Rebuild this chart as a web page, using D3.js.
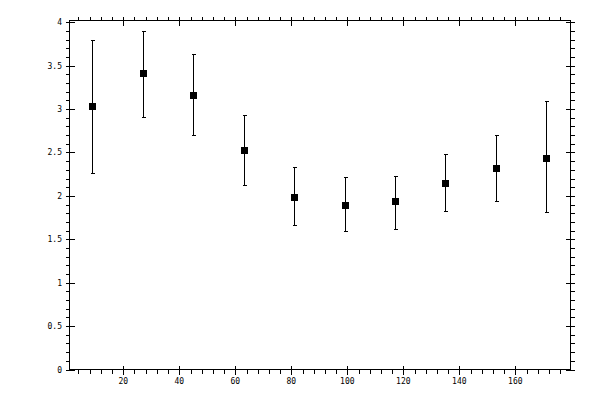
<!DOCTYPE html>
<html>
<head>
<meta charset="utf-8">
<script src="https://cdn.jsdelivr.net/npm/d3@7"></script>
<style>
  body { margin: 0; background: #fff; }
  text { font-family: "DejaVu Sans Mono", monospace; font-size: 8px; fill: #000; }
</style>
</head>
<body>
<div id="chart"></div>
<script>
// data
const xVals = [9, 27, 45, 63, 81, 99, 117, 135, 153, 171];
const yVals = [3.03, 3.41, 3.16, 2.53, 1.99, 1.90, 1.94, 2.15, 2.32, 2.44];
const yLow  = [2.26, 2.91, 2.70, 2.12, 1.66, 1.59, 1.62, 1.82, 1.94, 1.81];
const yHigh = [3.80, 3.90, 3.63, 2.93, 2.33, 2.22, 2.23, 2.48, 2.70, 3.09];

const xTicks = [20, 40, 60, 80, 100, 120, 140, 160];
const xMinor = d3.range(4, 180, 4).filter(d => d % 20 !== 0);
const yTicks = [0, 0.5, 1, 1.5, 2, 2.5, 3, 3.5, 4];
const yTickLabels = ["0", "0.5", "1", "1.5", "2", "2.5", "3", "3.5", "4"];
const yMinor = d3.range(1, 41).map(d => d / 10).filter((d, i) => (i + 1) % 5 !== 0);

const width = 600, height = 400;
const plotL = 69.5, plotR = 570.5, plotT = 20.5, plotB = 369.5;

const svg = d3.select("#chart").append("svg")
  .attr("width", width)
  .attr("height", height)
  .attr("shape-rendering", "crispEdges");

const x = d3.scaleLinear().domain([0.79, 179.7]).range([plotL, plotR]);
const y = d3.scaleLinear().domain([0, 4.02]).range([plotB, plotT]);

const px = v => Math.round(v) + 0.5;

// frame
svg.append("rect")
  .attr("x", plotL).attr("y", plotT)
  .attr("width", plotR - plotL).attr("height", plotB - plotT)
  .attr("fill", "none").attr("stroke", "#000");

const ticks = svg.append("g").attr("stroke", "#000");

// x ticks, bottom and top
ticks.selectAll(".xmin").data(xMinor).enter().append("path")
  .attr("d", d => `M${px(x(d))},${plotB}v4M${px(x(d))},${plotT}v-4`);
ticks.selectAll(".xmaj").data(xTicks).enter().append("path")
  .attr("d", d => `M${px(x(d))},${plotB - 4}v9M${px(x(d))},${plotT - 4}v9`);

// y ticks, left and right
ticks.selectAll(".ymin").data(yMinor).enter().append("path")
  .attr("d", d => `M${plotL},${px(y(d))}h-4M${plotR},${px(y(d))}h4`);
ticks.selectAll(".ymaj").data(yTicks).enter().append("path")
  .attr("d", d => `M${plotL - 4},${px(y(d))}h9M${plotR - 5},${px(y(d))}h9`);

// labels
svg.selectAll(".xl").data(xTicks).enter().append("text")
  .attr("x", d => x(d))
  .attr("y", 384)
  .attr("text-anchor", "middle")
  .text(d => d);

svg.selectAll(".yl").data(yTicks).enter().append("text")
  .attr("x", 62)
  .attr("y", d => y(d) + 3)
  .attr("text-anchor", "end")
  .text((d, i) => yTickLabels[i]);

// error bars
const bars = svg.append("g").attr("stroke", "#000");
bars.selectAll("path").data(xVals).enter().append("path")
  .attr("d", (d, i) => {
    const cx = px(x(d)), hi = px(y(yHigh[i])), lo = px(y(yLow[i]));
    return `M${cx},${hi}V${lo}M${cx - 2},${hi}h4M${cx - 2},${lo}h4`;
  });

// markers
svg.selectAll(".pt").data(xVals).enter().append("rect")
  .attr("x", d => Math.round(x(d)) - 3)
  .attr("y", (d, i) => Math.round(y(yVals[i])) - 3)
  .attr("width", 7)
  .attr("height", 7)
  .attr("fill", "#000");
</script>
</body>
</html>
